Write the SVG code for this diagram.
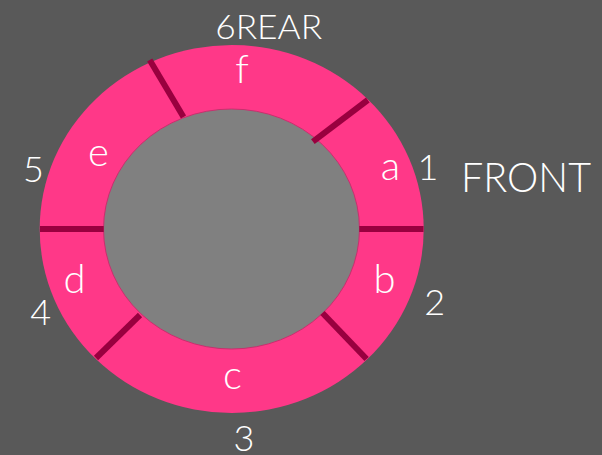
<svg xmlns="http://www.w3.org/2000/svg" width="602" height="455" viewBox="0 0 602 455">
<style>
.t{font-family:Lato,"Open Sans","Liberation Sans",sans-serif;font-weight:300;fill:#ffffff;text-anchor:middle}
.lc{font-size:40px}
.sep{stroke:#99003f;stroke-width:6;fill:none}
</style>
<rect x="0" y="0" width="602" height="455" fill="#595959"/>
<g id="ring">
<ellipse cx="231.7" cy="229" rx="192" ry="184" fill="#ff3888"/>
</g>
<g id="hub">
<ellipse cx="231.5" cy="229" rx="128" ry="120" fill="#808080" stroke="#c8306e" stroke-width="1"/>
</g>
<g id="separators">
<line class="sep" x1="149.7" y1="60" x2="183.5" y2="117"/>
<line class="sep" x1="367.8" y1="100" x2="312.9" y2="141.7"/>
<line class="sep" x1="359.3" y1="229" x2="423.5" y2="229"/>
<line class="sep" x1="40" y1="229" x2="103.7" y2="229"/>
<line class="sep" x1="96" y1="358" x2="140" y2="315"/>
<line class="sep" x1="322.5" y1="313" x2="366.6" y2="359"/>
</g>
<g id="seg-a"><text class="t lc" x="390.5" y="180">a</text></g>
<g id="seg-b"><text class="t lc" x="384.5" y="293">b</text></g>
<g id="seg-c"><text class="t lc" x="232.5" y="389">c</text></g>
<g id="seg-d"><text class="t lc" x="74.5" y="293">d</text></g>
<g id="seg-e"><text class="t lc" x="98.5" y="166">e</text></g>
<g id="seg-f"><text class="t lc" x="242" y="83">f</text></g>
<g id="num-1"><text class="t" x="428" y="180" font-size="36">1</text></g>
<g id="num-2"><text class="t" x="434.7" y="315" font-size="36">2</text></g>
<g id="num-3"><text class="t" x="244" y="451" font-size="36">3</text></g>
<g id="num-4"><text class="t" x="40.7" y="325" font-size="36">4</text></g>
<g id="num-5"><text class="t" x="33.5" y="182" font-size="36">5</text></g>
<g id="rear"><text class="t" x="268.7" y="39" font-size="33" textLength="107" lengthAdjust="spacingAndGlyphs">6REAR</text></g>
<g id="front"><text class="t" x="526" y="192" font-size="42" textLength="130" lengthAdjust="spacingAndGlyphs">FRONT</text></g>
</svg>
